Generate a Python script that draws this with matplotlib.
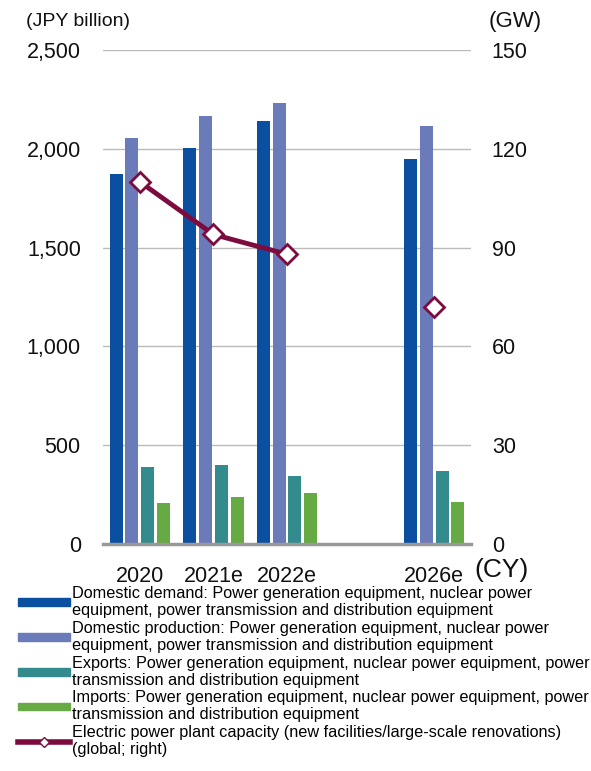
import matplotlib.pyplot as plt
import numpy as np
from matplotlib.lines import Line2D
from matplotlib.patches import Patch

plt.rcParams['font.family'] = ['Liberation Sans', 'DejaVu Sans']

# categories (one empty slot between 2022e and 2026e)
years = ['2020', '2021e', '2022e', '', '2026e']
demand = [1872, 2004, 2141, np.nan, 1948]
production = [2055, 2166, 2232, np.nan, 2115]
exports = [390, 400, 344, np.nan, 369]
imports = [207, 238, 258, np.nan, 212]
capacity = [110, 94, 88, np.nan, 72]

labels = [
    'Domestic demand: Power generation equipment, nuclear power\nequipment, power transmission and distribution equipment',
    'Domestic production: Power generation equipment, nuclear power\nequipment, power transmission and distribution equipment',
    'Exports: Power generation equipment, nuclear power equipment, power\ntransmission and distribution equipment',
    'Imports: Power generation equipment, nuclear power equipment, power\ntransmission and distribution equipment',
    'Electric power plant capacity (new facilities/large-scale renovations)\n(global; right)',
]
colors = ['#0B4FA0', '#6B7AB8', '#338B8E', '#66AA44']
line_color = '#7D0C3E'

fig = plt.figure(figsize=(5.91, 7.71), dpi=100)
ax = fig.add_axes([0.1743, 0.2944, 0.6227, 0.6407])
x = np.arange(len(years))
w = 0.177
pitch = 0.215
for i, vals in enumerate([demand, production, exports, imports]):
    ax.bar(x + (i - 1.5) * pitch, vals, width=w, color=colors[i], zorder=3)

ax.set_xlim(-0.5, len(years) - 0.5)
ax.set_ylim(0, 2500)
ax.set_yticks(range(0, 2501, 500))
ax.set_yticklabels([f'{v:,}' for v in range(0, 2501, 500)])
ax.grid(axis='y', color='#BBBBBB', linewidth=1, zorder=0)
for s in ['top', 'right', 'left']:
    ax.spines[s].set_visible(False)
ax.spines['bottom'].set_color('#999999')
ax.spines['bottom'].set_linewidth(2.5)
ax.spines['bottom'].set_zorder(4)
ax.set_xticks(x)
ax.set_xticklabels(years)
ax.tick_params(axis='both', length=0, labelsize=15.5, colors='#111111')
ax.tick_params(axis='x', pad=16)
ax.tick_params(axis='y', pad=16)

ax2 = ax.twinx()
ax2.set_ylim(0, 150)
ax2.set_yticks(range(0, 151, 30))
for s in ax2.spines.values():
    s.set_visible(False)
ax2.tick_params(axis='y', length=0, labelsize=15.5, pad=15, colors='#111111')
ax2.plot(x, capacity, color=line_color, linewidth=3.5, marker='D', markersize=10,
         markerfacecolor='white', markeredgecolor=line_color, markeredgewidth=2, zorder=5)

fig.text(0.044, 0.972, '(JPY billion)', fontsize=14, va='center', color='#111111')
fig.text(0.826, 0.972, '(GW)', fontsize=16, va='center', color='#111111')
fig.text(0.803, 0.261, '(CY)', fontsize=19, va='center', color='#111111')

handles = [Patch(color=c) for c in colors]
handles.append(Line2D([], [], color=line_color, linewidth=4, marker='D', markersize=5,
                      markerfacecolor='white', markeredgecolor=line_color))
leg = fig.legend(handles, labels, loc='upper left', bbox_to_anchor=(0.03, 0.24),
                 frameon=False, fontsize=11.7, handlelength=3.2, handleheight=0.35,
                 handletextpad=0.15, labelspacing=0.17, borderpad=0, borderaxespad=0)
for t in leg.get_texts():
    t.set_linespacing(1.17)

fig.savefig('out.png', dpi=100)
